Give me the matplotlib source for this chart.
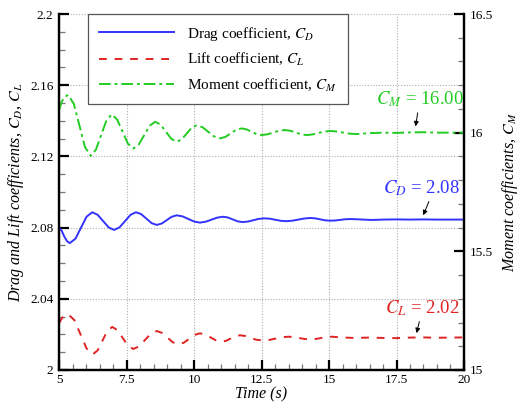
import matplotlib
matplotlib.use("Agg")
import matplotlib.pyplot as plt
from matplotlib.ticker import MultipleLocator, FuncFormatter

# values
t_drag = [5.0, 5.1, 5.2, 5.3, 5.4, 5.61, 5.815, 6.02, 6.23, 6.43, 6.635, 6.84, 7.04,
          7.24, 7.445, 7.65, 7.85, 8.04, 8.235, 8.43, 8.62, 8.805, 8.99, 9.175, 9.36,
          9.575, 9.79, 10.005, 10.22, 10.43, 10.645, 10.86, 11.07, 11.25, 11.435, 11.62,
          11.8, 12.0, 12.2, 12.4, 12.6, 12.81, 13.015, 13.22, 13.43, 13.65, 13.865, 14.08,
          14.3, 14.49, 14.67, 14.85, 15.04, 15.23, 15.42, 15.61, 15.8, 16.0, 16.2, 16.4,
          16.6, 17.0, 17.5, 18.0, 18.5, 19.0, 19.5, 20.0]
c_drag = [2.0800, 2.0782, 2.0748, 2.0723, 2.0713, 2.0738, 2.07995, 2.0861, 2.0886, 2.0872,
          2.08365, 2.0801, 2.0787, 2.0801, 2.08365, 2.0872, 2.0886, 2.0876, 2.08505, 2.0825,
          2.0815, 2.0823, 2.0842, 2.0861, 2.0869, 2.0863, 2.08485, 2.0834, 2.0828, 2.0833,
          2.08445, 2.0856, 2.0861, 2.0857, 2.0846, 2.0835, 2.0831, 2.0834, 2.08415, 2.0849,
          2.0852, 2.0850, 2.0844, 2.0838, 2.0836, 2.0839, 2.0845, 2.0851, 2.0854, 2.0852,
          2.08465, 2.0841, 2.0839, 2.0840, 2.08435, 2.0847, 2.0848, 2.0847, 2.08455, 2.0844,
          2.0843, 2.0845, 2.0846, 2.0845, 2.0846, 2.0845, 2.0845, 2.0845]

t_lift = [5.0, 5.1, 5.2, 5.34, 5.57, 5.795, 6.02, 6.25, 6.43, 6.61, 6.79, 6.97, 7.165,
          7.36, 7.555, 7.75, 7.97, 8.185, 8.4, 8.62, 8.82, 9.02, 9.22, 9.42, 9.62, 9.82,
          10.02, 10.22, 10.42, 10.62, 10.82, 11.02, 11.19, 11.36, 11.53, 11.7, 11.9, 12.1,
          12.3, 12.55, 12.79, 13.025, 13.26, 13.5, 13.7, 13.9, 14.1, 14.3, 14.5, 14.7, 14.9,
          15.1, 15.5, 15.9, 16.5, 17.0, 17.5, 18.0, 18.5, 19.0, 19.5, 20.0]
c_lift = [2.0262, 2.0290, 2.0306, 2.0313, 2.0280, 2.02005, 2.0121, 2.0088, 2.0110, 2.0165,
          2.0220, 2.0242, 2.0224, 2.0180, 2.0136, 2.0118, 2.0133, 2.01685, 2.0204, 2.0219,
          2.0208, 2.01815, 2.0155, 2.0144, 2.0153, 2.0175, 2.0197, 2.0206, 2.0199, 2.01825,
          2.0166, 2.0159, 2.0164, 2.0177, 2.0190, 2.0195, 2.0191, 2.01805, 2.0170, 2.0166,
          2.0169, 2.01765, 2.0184, 2.0187, 2.0185, 2.01795, 2.0174, 2.0172, 2.0174, 2.01795,
          2.0185, 2.0187, 2.0183, 2.0180, 2.0182, 2.0180, 2.0179, 2.0182, 2.0183, 2.0181,
          2.0182, 2.0183]

t_mom = [5.0, 5.1, 5.2, 5.34, 5.55, 5.755, 5.96, 6.17, 6.365, 6.56, 6.755, 6.95, 7.15,
         7.35, 7.55, 7.75, 7.95, 8.155, 8.36, 8.56, 8.76, 8.96, 9.16, 9.36, 9.545, 9.73,
         9.915, 10.1, 10.315, 10.53, 10.745, 10.96, 11.16, 11.36, 11.56, 11.76, 11.945,
         12.13, 12.315, 12.5, 12.72, 12.935, 13.15, 13.37, 13.57, 13.77, 13.97, 14.17,
         14.39, 14.605, 14.82, 15.04, 15.28, 15.52, 15.76, 16.0, 16.5, 17.0, 17.5, 18.0,
         18.5, 19.0, 19.5, 20.0]
c_mom = [16.095, 16.130, 16.150, 16.159, 16.121, 16.0305, 15.940, 15.902, 15.928, 15.9895,
         16.051, 16.077, 16.056, 16.005, 15.954, 15.933, 15.9495, 15.9895, 16.0295, 16.046,
         16.034, 16.004, 15.974, 15.962, 15.972, 15.9965, 16.021, 16.031, 16.023, 16.0035,
         15.984, 15.976, 15.982, 15.997, 16.012, 16.018, 16.014, 16.004, 15.994, 15.990,
         15.993, 16.0005, 16.008, 16.011, 16.008, 16.0005, 15.993, 15.990, 15.9925, 15.9985,
         16.0045, 16.007, 16.005, 16.0005, 15.996, 15.994, 15.998, 16.000, 15.999, 16.001,
         16.002, 16.000, 16.000, 16.000]

x_ticks = [5, 7.5, 10, 12.5, 15, 17.5, 20]
left_ticks = [2, 2.04, 2.08, 2.12, 2.16, 2.2]
right_ticks = [15, 15.5, 16, 16.5]

blue = "#3333ff"
red = "#e02424"
green = "#22cc22"

plt.rcParams["font.family"] = ["Liberation Serif", "DejaVu Serif"]
plt.rcParams["mathtext.fontset"] = "stix"

fig = plt.figure(figsize=(5.2, 4.04), dpi=100)
ax = fig.add_axes([0.1135, 0.0842, 0.7788, 0.8811])
ax2 = ax.twinx()

l1, = ax.plot(t_drag, c_drag, color=blue, lw=1.4, label="Drag coefficient, $C_D$")
l2, = ax.plot(t_lift, c_lift, color=red, lw=1.4, linestyle=(0, (4, 4)),
              label="Lift coefficient, $C_L$")
l3, = ax2.plot(t_mom, c_mom, color=green, lw=1.4, linestyle=(0, (6, 2, 1.5, 2)),
               label="Moment coefficient, $C_M$")

ax.set_xlim(5, 20)
ax.set_ylim(2, 2.2)
ax2.set_ylim(15, 16.5)

fmt = FuncFormatter(lambda v, p: "%g" % v)
ax.set_xticks(x_ticks)
ax.set_yticks(left_ticks)
ax2.set_yticks(right_ticks)
ax.xaxis.set_major_formatter(fmt)
ax.yaxis.set_major_formatter(fmt)
ax2.yaxis.set_major_formatter(fmt)
ax.xaxis.set_minor_locator(MultipleLocator(0.5))
ax.yaxis.set_minor_locator(MultipleLocator(0.01))
ax2.yaxis.set_minor_locator(MultipleLocator(0.1))

for a in (ax, ax2):
    a.tick_params(which="major", direction="in", length=7, width=1.6, color="black",
                  labelsize=9.5, pad=4)
    a.tick_params(which="minor", direction="in", length=4, width=0.9, color="#777777")
    for s in a.spines.values():
        s.set_linewidth(1.6)
    a.spines["top"].set_visible(False)
ax.tick_params(axis="y", right=False)
ax.tick_params(axis="y", which="minor", right=False)
ax.tick_params(axis="x", pad=3)

ax.grid(True, which="major", linestyle=(0, (1, 1.5)), color="#b0b0b0", lw=0.8)
ax.set_axisbelow(True)

ax.set_xlabel("Time (s)", fontsize=11.5, style="italic", labelpad=0)
ax.set_ylabel("Drag and Lift coefficients, $C_D$, $C_L$", fontsize=11.5, style="italic",
              labelpad=3)
ax2.set_ylabel("Moment coefficients, $C_M$", fontsize=11.5, style="italic", labelpad=5)

leg = ax2.legend(handles=[l1, l2, l3], loc="upper left", bbox_to_anchor=(0.0716, 1.0),
                 borderaxespad=0, fancybox=False, framealpha=1, edgecolor="#555555",
                 fontsize=11, handlelength=4.9, handletextpad=0.9, borderpad=0.7,
                 labelspacing=0.55)
leg.get_frame().set_linewidth(0.9)

# value labels with arrows
ax2.text(18.35, 16.142, "$C_M$ = 16.00", color=green, fontsize=13.5, ha="center", va="center")
ax2.annotate("", xy=(18.19, 16.015), xytext=(18.3, 16.095),
             arrowprops=dict(arrowstyle="-|>", color="black", lw=0.7, mutation_scale=7))
ax.text(18.44, 2.1022, "$C_D$ = 2.08", color=blue, fontsize=13.5, ha="center", va="center")
ax.annotate("", xy=(18.45, 2.0855), xytext=(18.74, 2.0961),
            arrowprops=dict(arrowstyle="-|>", color="black", lw=0.7, mutation_scale=7))
ax.text(18.44, 2.0348, "$C_L$ = 2.02", color=red, fontsize=13.5, ha="center", va="center")
ax.annotate("", xy=(18.22, 2.0192), xytext=(18.37, 2.0287),
            arrowprops=dict(arrowstyle="-|>", color="black", lw=0.7, mutation_scale=7))

fig.savefig("out.png", dpi=100)
